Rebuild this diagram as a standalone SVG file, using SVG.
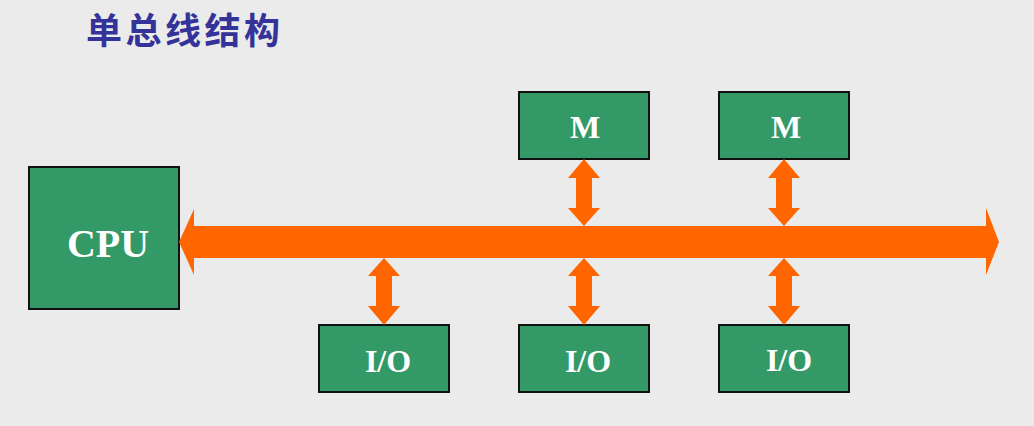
<svg xmlns="http://www.w3.org/2000/svg" width="1034" height="426" viewBox="0 0 1034 426">
<style>
.box{fill:#339966;stroke:#111;stroke-width:2}
.lbl{font-family:"Liberation Serif","Times New Roman",serif;font-weight:bold;fill:#fff;text-anchor:middle}
.arr{fill:#FF6600}
.title{font-family:"Noto Sans CJK SC",sans-serif;font-weight:bold;font-size:36px;fill:#333399;letter-spacing:3.5px}
</style>
<rect width="1034" height="426" fill="#EBEBEB"/>
<text class="title" x="86" y="44">单总线结构</text>
<g id="cpu"><rect class="box" x="29" y="167" width="150" height="142"/><text class="lbl" x="108" y="257" font-size="40">CPU</text></g>
<g id="m1"><rect class="box" x="519" y="92" width="130" height="67"/><text class="lbl" x="585" y="138" font-size="32">M</text></g>
<g id="m2"><rect class="box" x="719" y="92" width="130" height="67"/><text class="lbl" x="786" y="138" font-size="32">M</text></g>
<g id="io1"><rect class="box" x="319" y="325" width="130" height="67"/><text class="lbl" x="388" y="372" font-size="32">I/O</text></g>
<g id="io2"><rect class="box" x="519" y="325" width="130" height="67"/><text class="lbl" x="588" y="372" font-size="32">I/O</text></g>
<g id="io3"><rect class="box" x="719" y="325" width="130" height="67"/><text class="lbl" x="789" y="371" font-size="32">I/O</text></g>
<g id="connectors">
<polygon class="arr" points="179,242 194,209 194,226 986,226 986,208 999,242 986,275 986,258 194,258 194,275"/>
<polygon class="arr" points="584,159 600,178 592,178 592,208 600,208 584,226 568,208 576,208 576,178 568,178"/>
<polygon class="arr" points="784,159 800,178 792,178 792,208 800,208 784,226 768,208 776,208 776,178 768,178"/>
<polygon class="arr" points="384,258 400,276 392,276 392,306 400,306 384,325 368,306 376,306 376,276 368,276"/>
<polygon class="arr" points="584,258 600,276 592,276 592,306 600,306 584,325 568,306 576,306 576,276 568,276"/>
<polygon class="arr" points="784,258 800,276 792,276 792,306 800,306 784,325 768,306 776,306 776,276 768,276"/>
</g>
</svg>
